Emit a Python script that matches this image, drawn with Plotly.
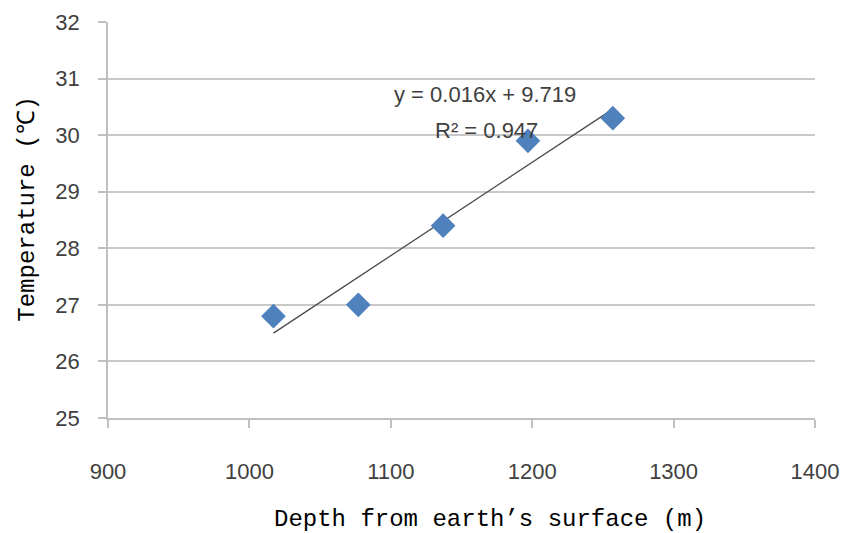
import numpy as np
import plotly.graph_objects as go

depth = [1017, 1077, 1137, 1197, 1257]
temperature = [26.8, 27.0, 28.4, 29.9, 30.3]
x_ticks = [900, 1000, 1100, 1200, 1300, 1400]
y_ticks = [25, 26, 27, 28, 29, 30, 31, 32]
equation_text = "y = 0.016x + 9.719"
r2_text = "R² = 0.947"
x_title = "Depth from earth’s surface (m)"
y_title = "Temperature (℃)"

slope, intercept = np.polyfit(depth, temperature, 1)
fit_x = [min(depth), max(depth)]
fit_y = [slope * v + intercept for v in fit_x]

fig = go.Figure()
fig.add_trace(go.Scatter(x=fit_x, y=fit_y, mode="lines",
                         line=dict(color="#4a4a4a", width=1.3), showlegend=False))
fig.add_trace(go.Scatter(x=depth, y=temperature, mode="markers",
                         marker=dict(symbol="diamond", size=19, color="#4F81BD"),
                         showlegend=False))

tick_font = dict(family="Liberation Sans", size=22, color="#404040")
title_font = dict(family="Liberation Mono", size=24, color="#000000")

fig.update_xaxes(range=[900, 1400], tickvals=x_ticks, showgrid=False,
                 showline=True, linecolor="#c0c0c0", linewidth=1.5,
                 ticks="outside", ticklen=8, tickcolor="#c0c0c0", tickwidth=1.5,
                 tickfont=tick_font, zeroline=False, ticklabelstandoff=25)
fig.update_yaxes(range=[25, 32], tickvals=y_ticks, showgrid=True,
                 gridcolor="#c8c8c8", gridwidth=1.5,
                 showline=True, linecolor="#c0c0c0", linewidth=1.5,
                 ticks="outside", ticklen=8, tickcolor="#c0c0c0", tickwidth=1.5,
                 tickfont=tick_font, zeroline=False, ticklabelstandoff=14)

fig.add_annotation(x=1170, y=0, xref="x", yref="paper", yshift=-101, yanchor="middle",
                   text=x_title, showarrow=False, font=title_font)
fig.add_annotation(x=0, y=28.7, xref="paper", yref="y", xshift=-80, xanchor="center",
                   textangle=-90, text=y_title, showarrow=False, font=title_font)

fig.add_annotation(x=1166.5, y=30.71, xref="x", yref="y", text=equation_text,
                   showarrow=False, font=dict(family="Liberation Sans", size=22, color="#404040"))
fig.add_annotation(x=1167.5, y=30.09, xref="x", yref="y", text=r2_text,
                   showarrow=False, font=dict(family="Liberation Sans", size=22, color="#404040"))

fig.update_layout(width=843, height=533, plot_bgcolor="white", paper_bgcolor="white",
                  margin=dict(l=108, r=28, t=22, b=115, autoexpand=False))
fig.write_html("out.html", config={"displayModeBar": False},
               post_script="document.body.style.margin='0';document.body.style.overflow='hidden';")
